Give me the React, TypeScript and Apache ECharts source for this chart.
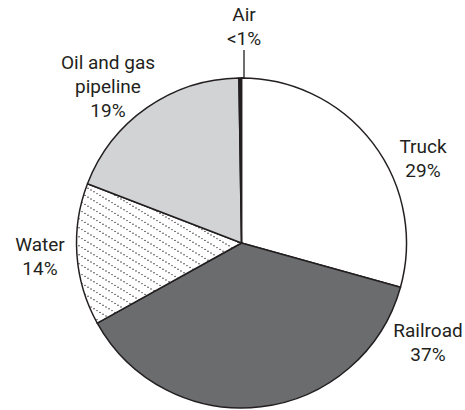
import React, { useEffect, useRef } from "react";
import * as echarts from "echarts";

// Data
const categories = ["Truck", "Railroad", "Water", "Oil and gas pipeline", "Air"];
const labelNames = ["Truck", "Railroad", "Water", "Oil and gas\npipeline", "Air"];
const shares = [29.3, 37.6, 13.9, 18.9, 0.25];
const shareLabels = ["29%", "37%", "14%", "19%", "<1%"];

// Layout (label anchor points), kept apart from the data
const LABEL_POS: [number, number][] = [
  [423, 158],
  [428, 342],
  [40, 256],
  [108, 86],
  [244, 26],
];

const INK = "#231f20";

function makeDotPattern(): HTMLCanvasElement {
  const w = 15;
  const h = 9;
  const c = document.createElement("canvas");
  c.width = w;
  c.height = h;
  const ctx = c.getContext("2d")!;
  ctx.fillStyle = "#ffffff";
  ctx.fillRect(0, 0, w, h);
  ctx.fillStyle = INK;
  const pts: number[][] = [];
  for (let k = 0; k < 5; k++) pts.push([k * 3, k * 1.8]);
  for (const [x, y] of pts) {
    for (const ox of [-w, 0, w]) {
      for (const oy of [-h, 0, h]) {
        ctx.beginPath();
        ctx.arc(x + ox + 1, y + oy + 1, 0.7, 0, Math.PI * 2);
        ctx.fill();
      }
    }
  }
  return c;
}

export default function App() {
  const ref = useRef<HTMLDivElement>(null);

  useEffect(() => {
    if (!ref.current) return;
    const chart = echarts.init(ref.current, null, { renderer: "svg" });
    const pattern = makeDotPattern();
    const fills: any[] = [
      "#ffffff",
      "#6b6c6e",
      { image: pattern, repeat: "repeat" },
      "#d2d3d5",
      INK,
    ];

    const data = categories.map((name, i) => ({
      name,
      value: shares[i],
      itemStyle: { color: fills[i] },
      labelLine:
        i === 4
          ? { show: true, lineStyle: { color: INK, width: 1.3 } }
          : { show: false },
    }));

    chart.setOption({
      animation: false,
      backgroundColor: "#ffffff",
      series: [
        {
          type: "pie",
          center: [241.5, 243],
          radius: 165,
          startAngle: 90,
          clockwise: true,
          avoidLabelOverlap: false,
          minShowLabelAngle: 0,
          data,
          itemStyle: {
            borderColor: INK,
            borderWidth: 1.5,
          },
          emphasis: { disabled: true },
          label: {
            show: true,
            position: "outside",
            formatter: (p: any) =>
              `${labelNames[p.dataIndex]}\n${shareLabels[p.dataIndex]}`,
            fontFamily: "Roboto, 'Liberation Sans', sans-serif",
            fontSize: 19,
            lineHeight: 24,
            color: INK,
            align: "center",
          },
          labelLine: { show: false },
          labelLayout: (p: any) => ({
            x: LABEL_POS[p.dataIndex][0],
            y: LABEL_POS[p.dataIndex][1],
            align: "center",
            verticalAlign: "middle",
          }),
        },
      ],
    });

    return () => chart.dispose();
  }, []);

  return (
    <div
      ref={ref}
      style={{ position: "fixed", left: 0, top: 0, width: 465, height: 410 }}
    />
  );
}
